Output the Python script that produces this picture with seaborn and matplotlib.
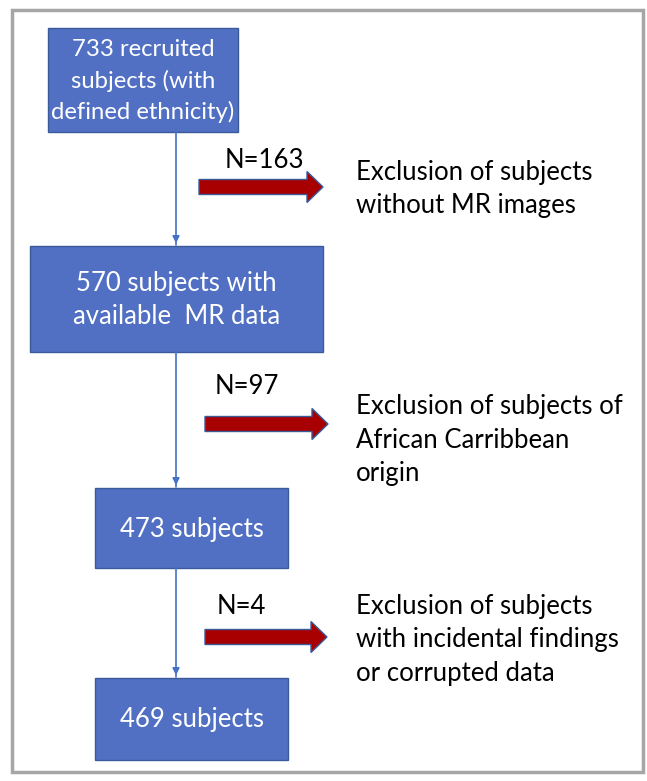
"""
Flow chart of subject selection (recruited -> final sample)
"""

import matplotlib.pyplot as plt
import matplotlib.patches as mpatches
import seaborn as sns
import pandas as pd

# data
stage_labels = [
    "733 recruited\nsubjects (with\ndefined ethnicity)",
    "570 subjects with\navailable  MR data",
    "473 subjects",
    "469 subjects",
]
excluded_n = [163, 97, 4]
exclusion_reasons = [
    "Exclusion of subjects\nwithout MR images",
    "Exclusion of subjects of\nAfrican Carribbean\norigin",
    "Exclusion of subjects\nwith incidental findings\nor corrupted data",
]

# layout (pixels, y down)
boxes = [(48, 28, 190, 104), (30, 246, 293, 106), (95, 488, 193, 80), (95, 678, 193, 82)]
box_font = [(17.2, 1.5), (18.5, 1.42), (18.5, 1.42), (18.5, 1.42)]
arrows = [(199, 187, 124), (205, 424, 123), (205, 637, 122)]
n_label_pos = [(264, 160), (247, 386), (241, 607)]
reason_pos = [(356, 189), (356, 440), (356, 640)]
spine_x = 176

BOX_BLUE = "#5170C4"
BOX_EDGE = "#3A5A9A"
ARROW_RED = "#A80000"
FS = 18.5


def draw_flowchart():
    sns.set_theme(style="white")
    plt.rcParams["font.family"] = ["Lato", "DejaVu Sans"]

    fig = plt.figure(figsize=(6.47, 7.81), dpi=100)
    ax = fig.add_axes([0, 0, 1, 1])
    ax.set_xlim(0, 647)
    ax.set_ylim(781, 0)
    ax.axis("off")

    # outer frame
    ax.add_patch(mpatches.Rectangle((12, 10), 631, 762, fill=False,
                                    edgecolor="#A6A6A6", linewidth=2.5))

    # connectors between boxes
    for (x0, y0, w0, h0), (x1, y1, w1, h1) in zip(boxes[:-1], boxes[1:]):
        seg = pd.DataFrame({"x": [spine_x, spine_x], "y": [y0 + h0, y1 - 1]})
        sns.lineplot(data=seg, x="x", y="y", ax=ax, color="#4472C4",
                     linewidth=1.2, sort=False, estimator=None)
        ax.annotate("", xy=(spine_x, y1), xytext=(spine_x, y1 - 10),
                    arrowprops=dict(arrowstyle="-|>", color="#4472C4",
                                    lw=1.2, mutation_scale=10))

    # boxes
    for (x, y, w, h), label, (fs, ls) in zip(boxes, stage_labels, box_font):
        ax.add_patch(mpatches.Rectangle((x, y), w, h, facecolor=BOX_BLUE,
                                        edgecolor=BOX_EDGE, linewidth=1))
        ax.text(x + w / 2, y + h / 2 + 1, label, color="white", fontsize=fs,
                ha="center", va="center", linespacing=ls)

    # exclusion arrows
    for (x, y, length), n, (lx, ly), reason, (rx, ry) in zip(
            arrows, excluded_n, n_label_pos, exclusion_reasons, reason_pos):
        ax.add_patch(mpatches.FancyArrow(x, y, length, 0, width=15,
                                         head_width=31, head_length=16,
                                         length_includes_head=True,
                                         facecolor=ARROW_RED, edgecolor=BOX_EDGE,
                                         linewidth=1))
        ax.text(lx, ly, f"N={n}", fontsize=FS, ha="center", va="center",
                color="black")
        ax.text(rx, ry, reason, fontsize=FS, ha="left", va="center",
                color="black", linespacing=1.42)

    fig.savefig("out.png", dpi=100, facecolor="white")


if __name__ == "__main__":
    draw_flowchart()
